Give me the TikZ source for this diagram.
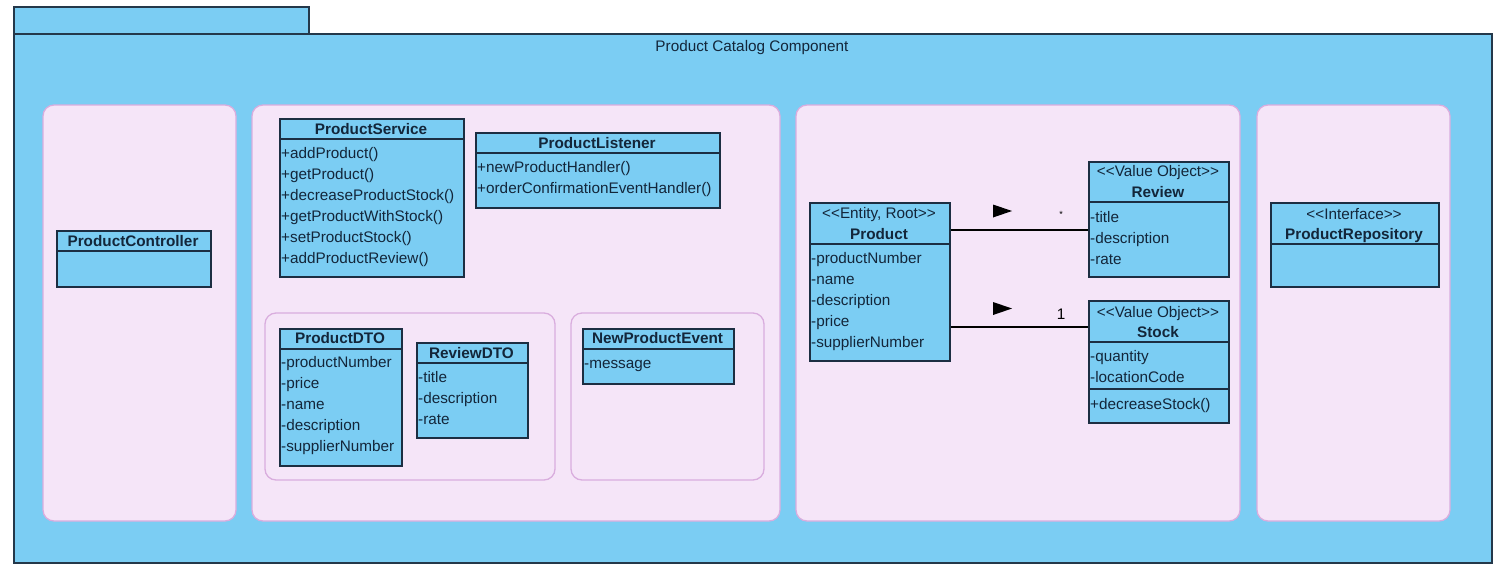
\documentclass[tikz,border=0pt]{standalone}
\usepackage{fontspec}
\setmainfont{Liberation Sans}
\definecolor{pkgblue}{HTML}{7BCDF3}
\definecolor{pkgline}{HTML}{24384A}
\definecolor{panelfill}{HTML}{F5E5F8}
\definecolor{panelline}{HTML}{D9ADDE}
\definecolor{clsline}{HTML}{1C2E42}
\definecolor{txtcol}{HTML}{13263A}
\newcommand\rowfont{\fontsize{15.3}{18}\selectfont}
\newcommand\lguil{<\kern0pt<}
\newcommand\rguil{>\kern0pt>}
\tikzset{
  pkg/.style={draw=pkgline, fill=pkgblue, line width=1.3pt},
  panel/.style={draw=panelline, fill=panelfill, line width=1.3pt, rounded corners=11pt},
  cls/.style={draw=clsline, fill=pkgblue, line width=1.6pt, inner sep=0pt, anchor=north west},
  divider/.style={draw=clsline, line width=1.6pt},
  row/.style={font=\rowfont, text=txtcol, inner sep=0pt, anchor=base west},
  clsname/.style={font=\rowfont\bfseries, text=txtcol, inner sep=0pt, anchor=base},
  stereo/.style={font=\rowfont, text=txtcol, inner sep=0pt, anchor=base},
  assoc/.style={draw=black, line width=1.1pt},
  lbl/.style={text=black, inner sep=0pt}
}
\begin{document}
\begin{tikzpicture}[x=1pt,y=-1pt]
\useasboundingbox (0,0) rectangle (1509,574);
\fill[white] (0,0) rectangle (1509,574);
% package
\draw[pkg] (14,7) rectangle (309,34);
\draw[pkg] (14,34) rectangle (1492,563);
\node[font=\rowfont, text=txtcol, inner sep=0pt, anchor=base] (title) at (752,51) {Product Catalog Component};
% panels
\draw[panel] (43,105) rectangle (236,521);
\draw[panel] (252,105) rectangle (780,521);
\draw[panel] (796,105) rectangle (1240,521);
\draw[panel] (1257,105) rectangle (1450,521);
\draw[panel] (265,313) rectangle (555,480);
\draw[panel] (571,313) rectangle (764,480);

% ProductController
\node[cls, minimum width=154pt, minimum height=56pt] (ProductController) at (56,230) {};
\draw[divider] (ProductController.west |- 0,251) -- (ProductController.east |- 0,251);
\node[clsname] (pcname) at (133,246) {ProductController};

% ProductService
\node[cls, minimum width=184pt, minimum height=158pt] (ProductService) at (279,118) {};
\draw[divider] (ProductService.west |- 0,139) -- (ProductService.east |- 0,139);
\node[clsname] (psname) at (371,134) {ProductService};
\foreach \t [count=\i] in {+addProduct(),+getProduct(),+decreaseProductStock(),+getProductWithStock(),+setProductStock(),+addProductReview()}
  \node[row] (psr\i) at (281,{137+21*\i}) {\t};

% ProductListener
\node[cls, minimum width=244pt, minimum height=75pt] (ProductListener) at (475,132) {};
\draw[divider] (ProductListener.west |- 0,153) -- (ProductListener.east |- 0,153);
\node[clsname] (plname) at (597,148) {ProductListener};
\node[row] (plr1) at (477,172) {+newProductHandler()};
\node[row] (plr2) at (477,193) {+orderConfirmationEventHandler()};

% ProductDTO
\node[cls, minimum width=122pt, minimum height=137pt] (ProductDTO) at (279,328) {};
\draw[divider] (ProductDTO.west |- 0,349) -- (ProductDTO.east |- 0,349);
\node[clsname] (pdname) at (340,343) {ProductDTO};
\foreach \t [count=\i] in {-productNumber,-price,-name,-description,-supplierNumber}
  \node[row] (pdr\i) at (281,{346+21*\i}) {\t};

% ReviewDTO
\node[cls, minimum width=111pt, minimum height=95pt] (ReviewDTO) at (416,342) {};
\draw[divider] (ReviewDTO.west |- 0,363) -- (ReviewDTO.east |- 0,363);
\node[clsname] (rdname) at (471.5,358) {ReviewDTO};
\foreach \t [count=\i] in {-title,-description,-rate}
  \node[row] (rdr\i) at (418,{361+21*\i}) {\t};

% NewProductEvent
\node[cls, minimum width=151pt, minimum height=55pt] (NewProductEvent) at (582,328) {};
\draw[divider] (NewProductEvent.west |- 0,349) -- (NewProductEvent.east |- 0,349);
\node[clsname] (npname) at (657.5,343) {NewProductEvent};
\node[row] (npr1) at (584,368) {-message};

% Product
\node[cls, minimum width=140pt, minimum height=158pt] (Product) at (809,202) {};
\draw[divider] (Product.west |- 0,244) -- (Product.east |- 0,244);
\node[stereo] (prst) at (879,218) {\lguil Entity, Root\rguil};
\node[clsname] (prname) at (879,239) {Product};
\foreach \t [count=\i] in {-productNumber,-name,-description,-price,-supplierNumber}
  \node[row] (prr\i) at (811,{242+21*\i}) {\t};

% Review
\node[cls, minimum width=140pt, minimum height=115pt] (Review) at (1088,161) {};
\draw[divider] (Review.west |- 0,202) -- (Review.east |- 0,202);
\node[stereo] (rvst) at (1158,176) {\lguil Value Object\rguil};
\node[clsname] (rvname) at (1158,197) {Review};
\foreach \t [count=\i] in {-title,-description,-rate}
  \node[row] (rvr\i) at (1090,{201+21*\i}) {\t};

% Stock
\node[cls, minimum width=140pt, minimum height=122pt] (Stock) at (1088,300) {};
\draw[divider] (Stock.west |- 0,342) -- (Stock.east |- 0,342);
\draw[divider] (Stock.west |- 0,389) -- (Stock.east |- 0,389);
\node[stereo] (stst) at (1158,317) {\lguil Value Object\rguil};
\node[clsname] (stname) at (1158,337) {Stock};
\node[row] (str1) at (1090,361) {-quantity};
\node[row] (str2) at (1090,382) {-locationCode};
\node[row] (str3) at (1090,409) {+decreaseStock()};

% ProductRepository
\node[cls, minimum width=168pt, minimum height=84pt] (ProductRepository) at (1270,202) {};
\draw[divider] (ProductRepository.west |- 0,244) -- (ProductRepository.east |- 0,244);
\node[stereo] (repst) at (1354,219) {\lguil Interface\rguil};
\node[clsname] (repname) at (1354,239) {ProductRepository};

% associations
\coordinate (l1) at (0,230);
\coordinate (l2) at (0,327);
\draw[assoc] (Product.east |- l1) -- (Review.west |- l1);
\draw[assoc] (Product.east |- l2) -- (Stock.west |- l2);
\fill[black] (993,204.5) -- (1012,211) -- (993,217.5) -- cycle;
\fill[black] (993,302) -- (1012,308.5) -- (993,315) -- cycle;
\node[lbl, font=\fontsize{9}{10}\selectfont] (m1) at (1061,214) {*};
\node[lbl, font=\rowfont] (m2) at (1061,314) {1};
\end{tikzpicture}
\end{document}
